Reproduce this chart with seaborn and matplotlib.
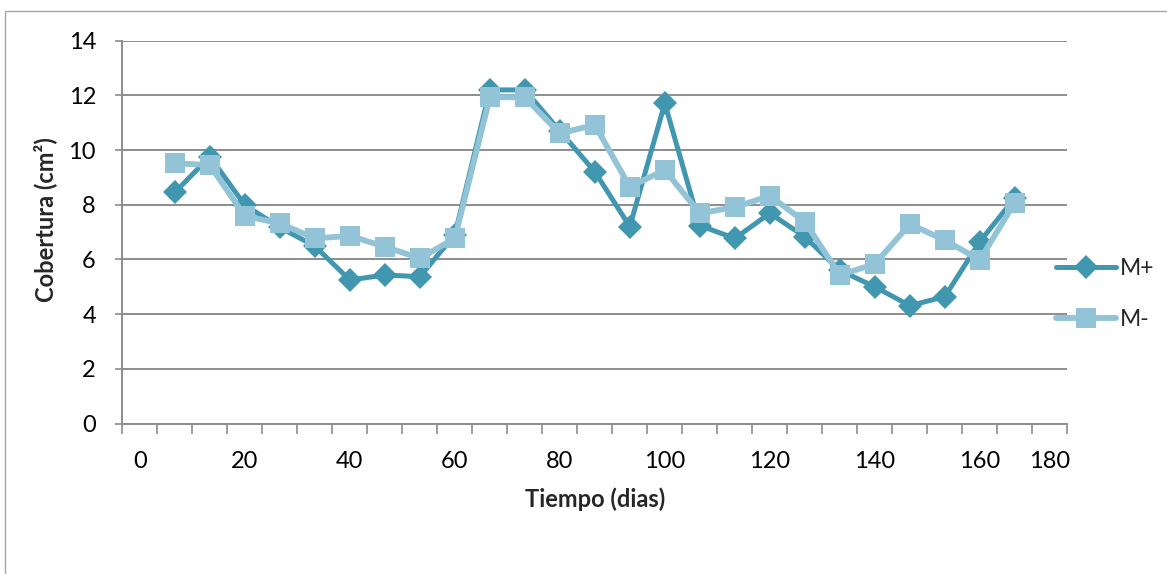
import numpy as np
import pandas as pd
import matplotlib
matplotlib.use("Agg")
import matplotlib.pyplot as plt
import seaborn as sns
from matplotlib.patches import Rectangle
from matplotlib.ticker import FixedLocator, MultipleLocator

# Category labels along the time axis (one per category slot)
etiquetas_dias = ["0", "", "", "20", "", "", "40", "", "", "60", "", "", "80", "",
                  "", "100", "", "", "120", "", "", "140", "", "", "160", "", "180"]

# Coverage per sampling (categories 2 .. 26)
m_mas = [8.45, 9.76, 7.99, 7.17, 6.49, 5.25, 5.43, 5.37, 6.90, 12.20, 12.20, 10.70,
         9.21, 7.20, 11.71, 7.24, 6.77, 7.69, 6.83, 5.60, 5.00, 4.31, 4.64, 6.65, 8.25]
m_menos = [9.52, 9.45, 7.59, 7.32, 6.77, 6.86, 6.47, 6.04, 6.77, 11.93, 11.93, 10.61,
           10.92, 8.66, 9.27, 7.69, 7.91, 8.32, 7.38, 5.43, 5.83, 7.29, 6.71, 5.98, 8.08]

series = ["M+", "M-"]
colores = {"M+": "#4197AF", "M-": "#93C3D6"}
gris = "#8C8C8C"

sns.set_theme(style="white")
plt.rcParams["font.family"] = ["Lato", "DejaVu Sans"]

fig = plt.figure(figsize=(11.67, 5.74), dpi=100)
ax = fig.add_axes([122.3 / 1167, 1 - 423.5 / 574, 945 / 1167, (423.5 - 40.7) / 574])

n_cat = len(etiquetas_dias)
posiciones = np.arange(1, n_cat + 1)
pos_datos = posiciones[1:-1]

df = pd.DataFrame({
    "pos": np.concatenate([pos_datos, pos_datos]),
    "valor": m_mas + m_menos,
    "serie": [series[0]] * len(m_mas) + [series[1]] * len(m_menos),
})

sns.lineplot(data=df[df.serie == "M+"], x="pos", y="valor", color=colores["M+"],
             lw=3.6, marker="D", markersize=12, markeredgewidth=0, ax=ax,
             label="M+", zorder=3)
sns.lineplot(data=df[df.serie == "M-"], x="pos", y="valor", color=colores["M-"],
             lw=4.2, marker="s", markersize=15, markeredgewidth=0, ax=ax,
             label="M-", zorder=4)

# axes limits and ticks
ax.set_xlim(0.5, n_cat + 0.5)
ax.set_ylim(0, 14)
ax.yaxis.set_major_locator(MultipleLocator(2))
ax.tick_params(axis="y", which="major", length=5, width=1.2, color=gris, pad=14,
               labelsize=17, labelcolor="black", left=True)

lab_pos = [p for p, t in zip(posiciones, etiquetas_dias) if t]
lab_txt = [t for t in etiquetas_dias if t]
ax.xaxis.set_major_locator(FixedLocator(lab_pos))
ax.set_xticklabels(lab_txt)
ax.xaxis.set_minor_locator(FixedLocator(np.arange(0.5, n_cat + 1, 1.0)))
ax.tick_params(axis="x", which="major", length=0, pad=20, labelsize=17,
               labelcolor="black", bottom=True)
ax.tick_params(axis="x", which="minor", length=7, width=1.2, color=gris, bottom=True)

ax.grid(axis="y", color=gris, lw=1.4)
ax.grid(axis="x", visible=False)
ax.set_axisbelow(True)
for s in ["top", "right"]:
    ax.spines[s].set_visible(False)
for s in ["left", "bottom"]:
    ax.spines[s].set_color(gris)
    ax.spines[s].set_linewidth(1.4)

ax.set_xlabel("Tiempo (dias)", fontsize=17, fontweight="bold", va="center")
ax.set_ylabel("Cobertura (cm²)", fontsize=17, fontweight="bold", va="center")
ax.xaxis.set_label_coords(0.5, (423.5 - 499) / 382.8)
ax.yaxis.set_label_coords((45 - 122.3) / 945, (423.5 - 220) / 382.8)

leg = ax.legend(loc="center left", bbox_to_anchor=(1056 / 1167, 1 - 294 / 574),
                bbox_transform=fig.transFigure, frameon=False, borderpad=0,
                borderaxespad=0, fontsize=16.5, handlelength=2.6,
                handletextpad=0.2, labelspacing=1.3)

# outer chart frame
fig.patches.append(Rectangle((5 / 1167, -0.1), 1.2, 1.1 - 11.5 / 574,
                             transform=fig.transFigure, fill=False,
                             edgecolor="#A6A6A6", lw=1.0))

fig.savefig("out.png", dpi=100, facecolor="white")
